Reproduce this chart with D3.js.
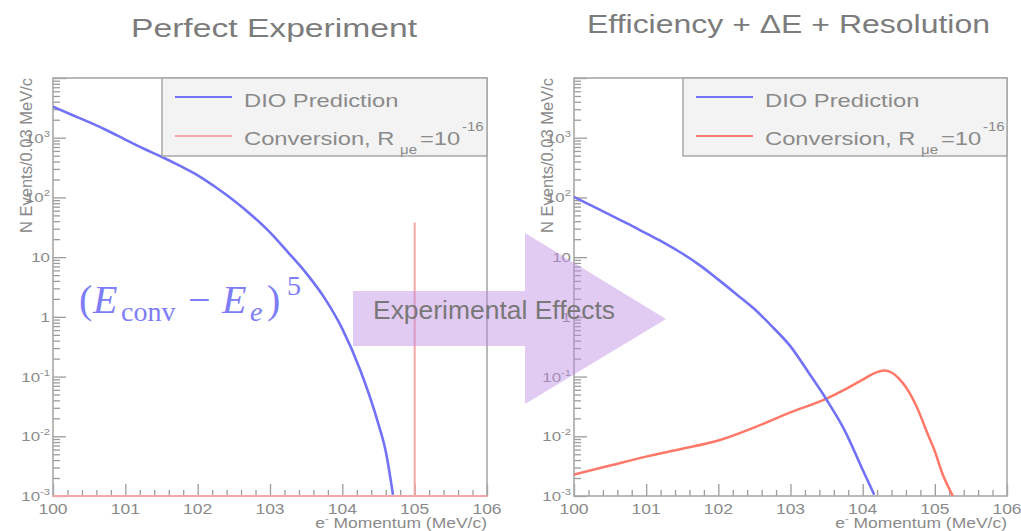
<!DOCTYPE html>
<html>
<head>
<meta charset="utf-8">
<script src="https://cdn.jsdelivr.net/npm/d3@7"></script>
<style>
html,body{margin:0;padding:0;background:#fff;}
svg{display:block;}
</style>
</head>
<body>
<svg id="chart" width="1021" height="531"></svg>
<script>
// ---------------- data ----------------
const xTicks = [100, 101, 102, 103, 104, 105, 106];
const yTickExponents = [-3, -2, -1, 0, 1, 2, 3];

// Left: perfect experiment
const dioMomentum = [100, 100.25, 100.5, 100.75, 101, 101.25, 101.5, 101.75, 102, 102.25, 102.5, 102.75, 103, 103.25, 103.5, 103.75, 104, 104.25, 104.5, 104.6, 104.7];
const dioPerfect = [3310, 2450, 1820, 1320, 930, 660, 480, 340, 234, 148, 89, 50, 26, 12, 5.4, 2.1, 0.63, 0.126, 0.0158, 0.0056, 0.00105];
const convPerfectMomentum = [100, 105, 105, 105, 106];
const convPerfect = [0.001, 0.001, 38, 0.001, 0.001];

// Right: efficiency + dE + resolution
const dioSmearedMomentum = [100, 100.25, 100.5, 100.75, 101, 101.25, 101.5, 101.75, 102, 102.25, 102.5, 102.75, 103, 103.25, 103.5, 103.75, 104, 104.16];
const dioSmeared = [102, 72, 51, 36, 25, 17.4, 11.5, 7.2, 4.2, 2.4, 1.35, 0.68, 0.32, 0.117, 0.041, 0.0126, 0.00275, 0.00105];
const convSmearedMomentum = [100, 100.5, 101, 101.5, 102, 102.5, 103, 103.5, 103.75, 104, 104.15, 104.3, 104.4, 104.5, 104.6, 104.75, 104.9, 105, 105.1, 105.25];
const convSmeared = [0.00229, 0.00324, 0.00457, 0.00617, 0.00851, 0.0141, 0.0251, 0.0427, 0.0603, 0.0891, 0.112, 0.126, 0.117, 0.0933, 0.0661, 0.0309, 0.011, 0.00562, 0.00245, 0.001];

const titles = ["Perfect Experiment", "Efficiency + \u0394E + Resolution"];
const legendLabels = ["DIO Prediction", "Conversion, R"];
const yTitle = "N Events/0.03 MeV/c";
const arrowLabel = "Experimental Effects";

// ---------------- drawing ----------------
const svg = d3.select("#chart");
const SANS = "'Liberation Sans', Arial, Helvetica, sans-serif";
const SX = 1.25; // horizontal stretch of the plot images
const BLUE = "#7272f6", GRAY_TXT = "#8a8a8a", AXIS = "#9c9c9c";

function stext(g, x, y, size, anchor, sx) {
  return g.append("text")
    .attr("transform", `translate(${x},${y}) scale(${sx === undefined ? SX : sx},1)`)
    .attr("text-anchor", anchor || "start")
    .attr("font-family", SANS)
    .attr("font-size", size)
    .attr("fill", GRAY_TXT);
}

const panels = [
  { x0: 53, x1: 487, dio: [dioMomentum, dioPerfect], conv: [convPerfectMomentum, convPerfect], convColor: "#f7a6a6", convWidth: 2, title: titles[0], tx: 274, ty: 37, tw: 286 },
  { x0: 574, x1: 1007, dio: [dioSmearedMomentum, dioSmeared], conv: [convSmearedMomentum, convSmeared], convColor: "#ff7868", convWidth: 2.5, title: titles[1], tx: 788.5, ty: 33, tw: 403 }
];
const yTop = 78, yBot = 496;

panels.forEach((p, i) => {
  const g = svg.append("g");
  const x = d3.scaleLinear().domain([100, 106]).range([p.x0, p.x1]);
  const y = d3.scaleLog().domain([1e-3, 1e4]).range([yBot, yTop]);

  // title
  g.append("text").attr("x", p.tx).attr("y", p.ty).attr("text-anchor", "middle")
    .attr("font-family", SANS).attr("font-size", 25).attr("fill", "#7c7c7c")
    .attr("textLength", p.tw).attr("lengthAdjust", "spacingAndGlyphs").text(p.title);

  // clip
  const cid = "clip" + i;
  svg.append("clipPath").attr("id", cid).append("rect")
    .attr("x", p.x0).attr("y", yTop).attr("width", p.x1 - p.x0).attr("height", yBot - yTop + 1);

  // y ticks (inside)
  const majors = yTickExponents.map(e => Math.pow(10, e)).concat([1e4]);
  const minors = [];
  for (let e = -3; e < 4; e++) for (let k = 2; k <= 9; k++) minors.push(k * Math.pow(10, e));
  const yMaj = g.append("g").attr("transform", `translate(${p.x0},0)`)
    .call(d3.axisRight(y).tickValues(majors).tickSize(13).tickFormat(""));
  const yMin = g.append("g").attr("transform", `translate(${p.x0},0)`)
    .call(d3.axisRight(y).tickValues(minors).tickSize(7).tickFormat(""));
  // x ticks (inside)
  const xMinors = d3.range(100, 106.001, 0.2).filter(v => Math.abs(v - Math.round(v)) > 0.01);
  const xMaj = g.append("g").attr("transform", `translate(0,${yBot})`)
    .call(d3.axisTop(x).tickValues(xTicks).tickSize(12).tickFormat(""));
  const xMin = g.append("g").attr("transform", `translate(0,${yBot})`)
    .call(d3.axisTop(x).tickValues(xMinors).tickSize(6).tickFormat(""));
  [yMaj, yMin, xMaj, xMin].forEach(a => {
    a.select(".domain").remove();
    a.selectAll("line").attr("stroke", AXIS).attr("stroke-width", 1.3);
  });

  // frame
  g.append("rect").attr("x", p.x0).attr("y", yTop).attr("width", p.x1 - p.x0).attr("height", yBot - yTop)
    .attr("fill", "none").attr("stroke", "#a8a8a8").attr("stroke-width", 1.6);

  // y tick labels
  yTickExponents.forEach(e => {
    const t = stext(g, p.x0 - 3, y(Math.pow(10, e)) + 5, 13.5, "end");
    if (e === 0) t.append("tspan").text("1");
    else if (e === 1) t.append("tspan").text("10");
    else {
      t.append("tspan").text("10");
      t.append("tspan").attr("dy", -6).attr("font-size", 9).text(String(e).replace("-", "-"));
    }
  });
  // x tick labels
  xTicks.forEach(v => {
    stext(g, x(v), yBot + 18, 14, "middle").text(v);
  });
  // x title
  const xt = stext(g, p.x1, 528, 14, "end");
  xt.append("tspan").text("e");
  xt.append("tspan").attr("dy", -6).attr("font-size", 9).text("-");
  xt.append("tspan").attr("dy", 6).text(" Momentum (MeV/c)");
  // y title
  g.append("text").attr("transform", `translate(${p.x0 - 21},${yTop}) rotate(-90)`)
    .attr("text-anchor", "end").attr("font-family", SANS).attr("font-size", 16.5)
    .attr("fill", GRAY_TXT).text(yTitle);

  // curves
  const line = d3.line().x(d => x(d[0])).y(d => y(d[1]));
  const plot = g.append("g").attr("clip-path", `url(#${cid})`);
  const convData = d3.zip(p.conv[0], p.conv[1]);
  const dioData = d3.zip(p.dio[0], p.dio[1]);
  plot.append("path").datum(convData)
    .attr("d", i === 0 ? line.curve(d3.curveLinear)(convData) : line.curve(d3.curveMonotoneX)(convData))
    .attr("fill", "none").attr("stroke", p.convColor).attr("stroke-width", p.convWidth);
  plot.append("path").datum(dioData)
    .attr("d", line.curve(d3.curveMonotoneX)(dioData))
    .attr("fill", "none").attr("stroke", BLUE).attr("stroke-width", 2.6);

  // legend
  const L = p.x0 + (i === 0 ? 109 : 109);
  const lg = g.append("g");
  lg.append("rect").attr("x", L).attr("y", yTop).attr("width", p.x1 - L).attr("height", 78)
    .attr("fill", "#f3f3f3").attr("stroke", "#a8a8a8").attr("stroke-width", 1.5);
  lg.append("line").attr("x1", L + 13).attr("x2", L + 70).attr("y1", 97).attr("y2", 97)
    .attr("stroke", BLUE).attr("stroke-width", 2.2);
  lg.append("line").attr("x1", L + 13).attr("x2", L + 70).attr("y1", 136).attr("y2", 136)
    .attr("stroke", p.convColor).attr("stroke-width", 2.2);
  stext(lg, L + 82, 107, 19).text(legendLabels[0]);
  stext(lg, L + 82, 145, 19).text(legendLabels[1]);
  stext(lg, L + 238, 154, 12).text("\u03bce");
  stext(lg, L + 258, 145, 19).text("=10");
  stext(lg, L + 300, 131, 12).text("-16");
});

// formula on left panel
const f = svg.append("text").attr("y", 313).attr("font-family", "'Liberation Serif', 'Times New Roman', serif")
  .attr("font-size", 40).attr("fill", "#7d7df6");
f.append("tspan").attr("x", 79).text("(");
f.append("tspan").attr("x", 93).attr("font-style", "italic").text("E");
f.append("tspan").attr("x", 121).attr("dy", 8).attr("font-size", 28).text("conv");
f.append("tspan").attr("x", 188).attr("dy", -8).text("\u2212");
f.append("tspan").attr("x", 222).attr("font-style", "italic").text("E");
f.append("tspan").attr("x", 250).attr("dy", 8).attr("font-size", 28).attr("font-style", "italic").text("e");
f.append("tspan").attr("x", 267).attr("dy", -8).text(")");
f.append("tspan").attr("x", 287).attr("dy", -18).attr("font-size", 28).text("5");

// arrow
const arrowPts = [[353, 291], [525, 291], [525, 233], [666, 319], [525, 404], [525, 346], [353, 346]];
svg.append("polygon").attr("points", arrowPts.map(d => d.join(",")).join(" "))
  .attr("fill", "rgb(190,140,228)").attr("fill-opacity", 0.45);
svg.append("text").attr("x", 373).attr("y", 319).attr("font-family", SANS).attr("font-size", 26)
  .attr("fill", "#787878").attr("textLength", 242).attr("lengthAdjust", "spacingAndGlyphs").text(arrowLabel);
</script>
</body>
</html>
